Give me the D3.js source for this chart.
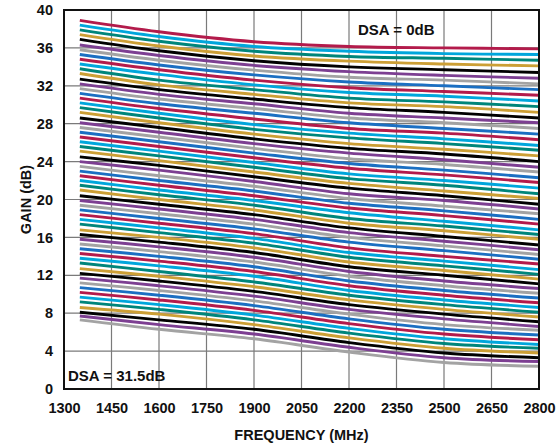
<!DOCTYPE html>
<html><head><meta charset="utf-8">
<script src="https://cdn.jsdelivr.net/npm/d3@7"></script>
<style>body{margin:0;background:#fff}svg{display:block}text{font-family:"Liberation Sans",Arial,sans-serif;font-weight:bold;fill:#111}</style>
</head><body>
<svg id="c" width="557" height="446"></svg>
<script>
// Frequencies (MHz) where each curve is read
const freqs = [1350, 1600, 1900, 2200, 2500, 2800];
// Gain (dB) of each DSA state (0 dB at index 0, 0.5 dB steps) at each frequency
const gain1350 = [38.9,38.4,37.9,37.4,36.9,36.3,35.8,35.3,34.8,34.3,33.8,33.3,32.7,32.2,31.7,31.2,30.7,30.2,29.7,29.2,28.6,28.1,27.6,27.1,26.6,26.1,25.6,25.1,24.5,24.0,23.5,23.0,22.5,22.0,21.5,21.0,20.4,19.9,19.4,18.9,18.4,17.9,17.4,16.8,16.3,15.8,15.3,14.8,14.3,13.8,13.3,12.7,12.2,11.7,11.2,10.7,10.2,9.7,9.2,8.6,8.1,7.7,7.3];
const gain1600 = [37.7,37.2,36.7,36.2,35.7,35.2,34.7,34.2,33.7,33.2,32.6,32.1,31.6,31.1,30.6,30.1,29.6,29.1,28.6,28.1,27.6,27.1,26.6,26.1,25.6,25.1,24.6,24.1,23.6,23.1,22.5,22.0,21.5,21.0,20.5,20.0,19.5,19.0,18.5,18.0,17.5,17.0,16.5,16.0,15.5,15.0,14.5,14.0,13.5,13.0,12.4,11.9,11.4,10.9,10.4,9.9,9.4,8.9,8.4,7.9,7.3,6.8,6.3];
const gain1900 = [36.65,36.15,35.65,35.15,34.65,34.15,33.65,33.15,32.6,32.1,31.6,31.1,30.6,30.1,29.6,29.1,28.5,27.9,27.4,26.9,26.4,25.9,25.4,24.9,24.4,23.9,23.4,22.9,22.4,21.9,21.4,20.9,20.4,19.9,19.4,18.9,18.4,17.9,17.4,16.9,16.4,15.9,15.4,14.9,14.4,13.9,13.4,12.9,12.4,11.9,11.3,10.8,10.3,9.8,9.3,8.8,8.3,7.8,7.3,6.8,6.3,5.8,5.3];
const gain2200 = [36.15,35.65,35.1,34.6,34.0,33.5,32.9,32.4,31.8,31.3,30.7,30.2,29.7,29.1,28.6,28.1,27.5,27.0,26.5,25.9,25.4,24.9,24.3,23.8,23.3,22.7,22.2,21.7,21.2,20.6,20.1,19.6,19.1,18.6,18.0,17.5,17.0,16.5,16.0,15.5,14.9,14.4,13.9,13.4,12.9,12.4,11.9,11.4,10.9,10.4,9.9,9.4,8.9,8.4,7.9,7.4,6.9,6.4,5.9,5.4,4.9,4.4,3.9];
const gain2500 = [36.0,35.4,34.9,34.3,33.7,33.1,32.6,32.0,31.4,30.9,30.3,29.8,29.2,28.6,28.1,27.5,27.0,26.4,25.9,25.3,24.8,24.2,23.7,23.1,22.6,22.0,21.5,20.9,20.4,19.9,19.3,18.8,18.3,17.7,17.2,16.7,16.1,15.6,15.1,14.6,14.0,13.5,13.0,12.5,12.0,11.4,10.9,10.4,9.9,9.4,8.9,8.4,7.9,7.4,6.8,6.3,5.8,5.3,4.8,4.3,3.8,3.3,2.8];
const gain2800 = [35.9,35.3,34.7,34.1,33.4,32.8,32.2,31.6,31.0,30.4,29.8,29.2,28.6,28.1,27.5,26.9,26.3,25.7,25.2,24.6,24.0,23.4,22.9,22.3,21.8,21.2,20.6,20.1,19.5,19.0,18.5,17.9,17.4,16.8,16.3,15.8,15.2,14.7,14.2,13.7,13.2,12.6,12.1,11.6,11.1,10.6,10.1,9.6,9.1,8.6,8.1,7.6,7.1,6.6,6.2,5.7,5.2,4.7,4.3,3.8,3.3,2.9,2.4];
const xTicks = [1300,1450,1600,1750,1900,2050,2200,2350,2500,2650,2800];
const yTicks = [0,4,8,12,16,20,24,28,32,36,40];
const palette = ["#b31b4b","#00a6dc","#00857a","#cc9f35","#000000","#7d3f92","#a3a3a3","#1b6fc2"];

const svg = d3.select("#c");
const m = {l:64, t:10, r:539, b:389};
const x = d3.scaleLinear().domain([1300,2800]).range([m.l, m.r]);
const y = d3.scaleLinear().domain([0,40]).range([m.b, m.t]);

// grid
const g = svg.append("g");
g.selectAll("line.v").data(xTicks.slice(1,-1)).join("line")
  .attr("x1",d=>x(d)).attr("x2",d=>x(d)).attr("y1",m.t).attr("y2",m.b)
  .attr("stroke","#7a7a7a").attr("stroke-width",1.2);
g.selectAll("line.h").data(yTicks.slice(1,-1)).join("line")
  .attr("y1",d=>y(d)).attr("y2",d=>y(d)).attr("x1",m.l).attr("x2",m.r)
  .attr("stroke","#7a7a7a").attr("stroke-width",1.2);

// curves
const cols = [gain1350, gain1600, gain1900, gain2200, gain2500, gain2800];
const series = gain1350.map((_,i)=>freqs.map((f,j)=>({f, v: cols[j][i]})));
const line = d3.line().x(d=>x(d.f)).y(d=>y(d.v)).curve(d3.curveCatmullRom.alpha(0.5));
svg.append("g").selectAll("path").data(series).join("path")
  .attr("d", line).attr("fill","none")
  .attr("stroke",(d,i)=>palette[i%8]).attr("stroke-width",2.9);

// frame
svg.append("rect").attr("x",m.l).attr("y",m.t).attr("width",m.r-m.l).attr("height",m.b-m.t)
  .attr("fill","none").attr("stroke","#111").attr("stroke-width",2);

// axes labels
const xa = svg.append("g").attr("transform",`translate(0,${m.b})`)
  .call(d3.axisBottom(x).tickValues(xTicks).tickSize(0).tickPadding(14).tickFormat(d3.format("d")));
const ya = svg.append("g").attr("transform",`translate(${m.l},0)`)
  .call(d3.axisLeft(y).tickValues(yTicks).tickSize(0).tickPadding(11).tickFormat(d3.format("d")));
[xa,ya].forEach(a=>{a.select(".domain").remove(); a.selectAll("text").attr("font-size",14.5).attr("font-family","Liberation Sans, Arial, sans-serif").attr("font-weight","bold").attr("fill","#111");});

svg.append("text").attr("x",(m.l+m.r)/2).attr("y",440).attr("text-anchor","middle").attr("font-size",14.5).text("FREQUENCY (MHz)");
svg.append("text").attr("transform",`translate(31,${(m.t+m.b)/2}) rotate(-90)`).attr("text-anchor","middle").attr("font-size",14.5).text("GAIN (dB)");
svg.append("text").attr("x",358).attr("y",35).attr("font-size",15).text("DSA = 0dB");
svg.append("text").attr("x",68).attr("y",381).attr("font-size",15).text("DSA = 31.5dB");
</script>
</body></html>
